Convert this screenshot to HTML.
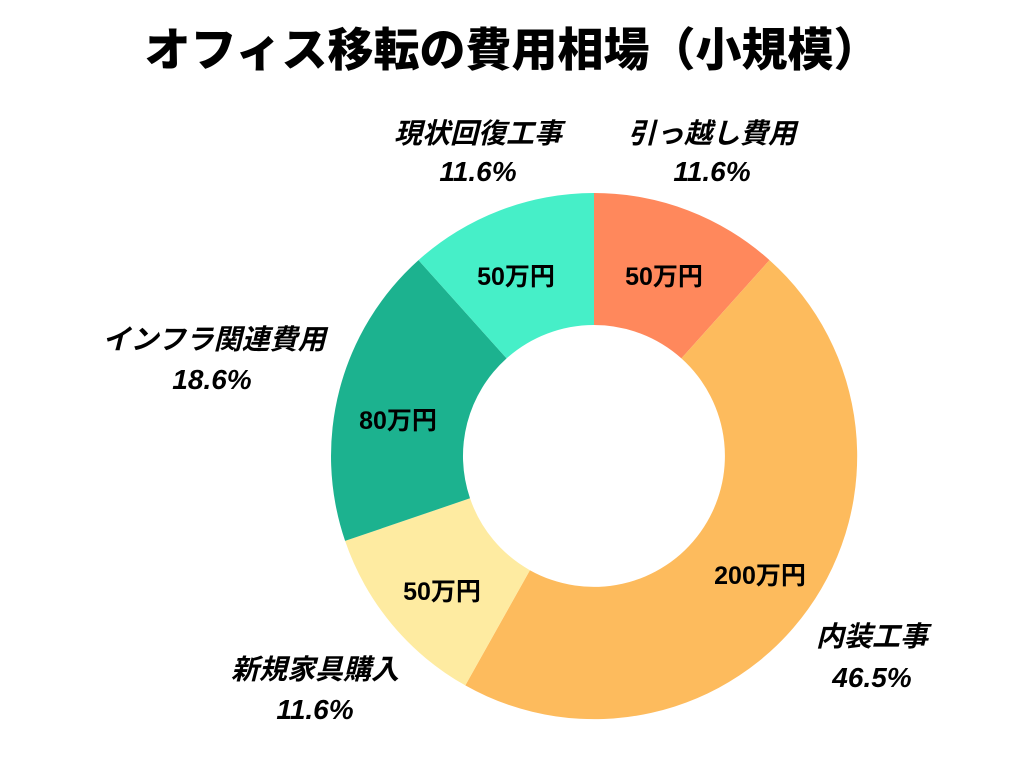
<!DOCTYPE html>
<html><head><meta charset="utf-8"><style>
html,body{margin:0;padding:0;background:#fff;width:1024px;height:768px;overflow:hidden}
text{font-family:"Liberation Sans","Noto Sans CJK JP",sans-serif}
</style></head><body>
<svg width="1024" height="768" viewBox="0 0 1024 768" xmlns="http://www.w3.org/2000/svg">
<rect width="1024" height="768" fill="#fff"/>
<text x="512" y="66" text-anchor="middle" font-size="46" font-weight="bold" fill="#000" style="font-family:'Noto Sans CJK JP',sans-serif;font-weight:900">オフィス移転の費用相場（小規模）</text>
<g stroke="none">
<path d="M594,193 A263,263 0 0 1 769.5,260.1 L681.4,358.4 A131,131 0 0 0 594,325 Z" fill="#FF885C"/>
<path d="M769.5,260.1 A263,263 0 0 1 465.3,685.4 L529.9,570.2 A131,131 0 0 0 681.4,358.4 Z" fill="#FDBB5D"/>
<path d="M465.3,685.4 A263,263 0 0 1 345.1,540.9 L470.0,498.3 A131,131 0 0 0 529.9,570.2 Z" fill="#FEEBA1"/>
<path d="M345.1,540.9 A263,263 0 0 1 418.5,260.1 L506.6,358.4 A131,131 0 0 0 470.0,498.3 Z" fill="#1CB28F"/>
<path d="M418.5,260.1 A263,263 0 0 1 594,193 L594,325 A131,131 0 0 0 506.6,358.4 Z" fill="#46EFC8"/>
</g>
<g font-size="25" font-weight="bold" fill="#000" text-anchor="middle">
<text x="664" y="285">50万円</text>
<text x="516" y="285">50万円</text>
<text x="398" y="429">80万円</text>
<text x="442" y="600">50万円</text>
<text x="760" y="584">200万円</text>
</g>
<g font-size="28" font-weight="bold" font-style="italic" fill="#000" text-anchor="middle">
<text x="478" y="143">現状回復工事</text>
<text x="478" y="181">11.6%</text>
<text x="712" y="143">引っ越し費用</text>
<text x="712" y="181">11.6%</text>
<text x="214" y="349">インフラ関連費用</text>
<text x="212" y="389">18.6%</text>
<text x="315" y="679">新規家具購入</text>
<text x="315" y="719">11.6%</text>
<text x="872" y="646">内装工事</text>
<text x="872" y="687">46.5%</text>
</g>
</svg>
</body></html>
